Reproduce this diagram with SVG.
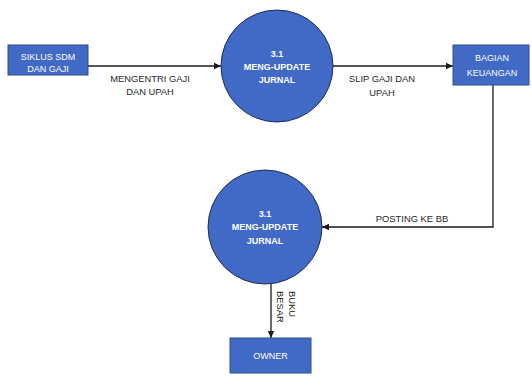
<svg xmlns="http://www.w3.org/2000/svg" width="531" height="376" viewBox="0 0 531 376">
  <style>
    .ent { fill: #4169C6; stroke: #2F4F8F; stroke-width: 1; }
    .proc { fill: #4169C6; stroke: #1F2F55; stroke-width: 1; }
    .lbl-w { font-family: "Liberation Sans", Arial, sans-serif; font-size: 9px; fill: #FFFFFF; text-anchor: middle; }
    .lbl-b { font-family: "Liberation Sans", Arial, sans-serif; font-size: 9px; font-weight: bold; fill: #FFFFFF; text-anchor: middle; }
    .flow { fill: none; stroke: #1A1A1A; stroke-width: 1.3; }
    .flow-txt { font-family: "Liberation Sans", Arial, sans-serif; font-size: 9.4px; fill: #262626; text-anchor: middle; }
  </style>
  <defs>
    <marker id="arrow" markerWidth="8" markerHeight="8" refX="7" refY="4" orient="auto" markerUnits="userSpaceOnUse">
      <path d="M0,0.8 L7,4 L0,7.2 Z" fill="#1A1A1A"/>
    </marker>
  </defs>

  <rect width="531" height="376" fill="#FFFFFF"/>

  <!-- data flows -->
  <g id="connectors">
    <path class="flow" d="M88,66 L221,66" marker-end="url(#arrow)"/>
    <path class="flow" d="M333,66 L453,66" marker-end="url(#arrow)"/>
    <path class="flow" d="M493,85 L493,227 L322,227" marker-end="url(#arrow)"/>
    <path class="flow" d="M271,284 L271,338" marker-end="url(#arrow)"/>

    <text class="flow-txt" x="150" y="81.5">MENGENTRI GAJI</text>
    <text class="flow-txt" x="150" y="95">DAN UPAH</text>
    <text class="flow-txt" x="382" y="81.5">SLIP GAJI DAN</text>
    <text class="flow-txt" x="382" y="96">UPAH</text>
    <text class="flow-txt" x="412" y="221.5">POSTING KE BB</text>
    <text class="flow-txt" transform="translate(288.5,291) rotate(90)" style="text-anchor:start">BUKU</text>
    <text class="flow-txt" transform="translate(276.5,291) rotate(90)" style="text-anchor:start">BESAR</text>
  </g>

  <!-- external entity: SIKLUS SDM DAN GAJI -->
  <g id="siklus-sdm">
    <rect class="ent" x="8" y="45" width="80" height="30"/>
    <text class="lbl-w" x="48" y="60">SIKLUS SDM</text>
    <text class="lbl-w" x="48" y="72">DAN GAJI</text>
  </g>

  <!-- process 3.1 (top) -->
  <g id="proses-1">
    <circle class="proc" cx="277" cy="66" r="56"/>
    <text class="lbl-b" x="277" y="56.5">3.1</text>
    <text class="lbl-b" x="277" y="69.5">MENG-UPDATE</text>
    <text class="lbl-b" x="277" y="82.5">JURNAL</text>
  </g>

  <!-- external entity: BAGIAN KEUANGAN -->
  <g id="bagian-keuangan">
    <rect class="ent" x="453" y="45" width="76" height="40"/>
    <text class="lbl-w" x="492" y="60.5">BAGIAN</text>
    <text class="lbl-w" x="492" y="76">KEUANGAN</text>
  </g>

  <!-- process 3.1 (bottom) -->
  <g id="proses-2">
    <circle class="proc" cx="265" cy="227" r="57"/>
    <text class="lbl-b" x="265" y="216.5">3.1</text>
    <text class="lbl-b" x="265" y="230">MENG-UPDATE</text>
    <text class="lbl-b" x="265" y="243.5">JURNAL</text>
  </g>

  <!-- external entity: OWNER -->
  <g id="owner">
    <rect class="ent" x="230" y="338" width="81" height="35"/>
    <text class="lbl-w" x="270.5" y="358.5">OWNER</text>
  </g>
</svg>
